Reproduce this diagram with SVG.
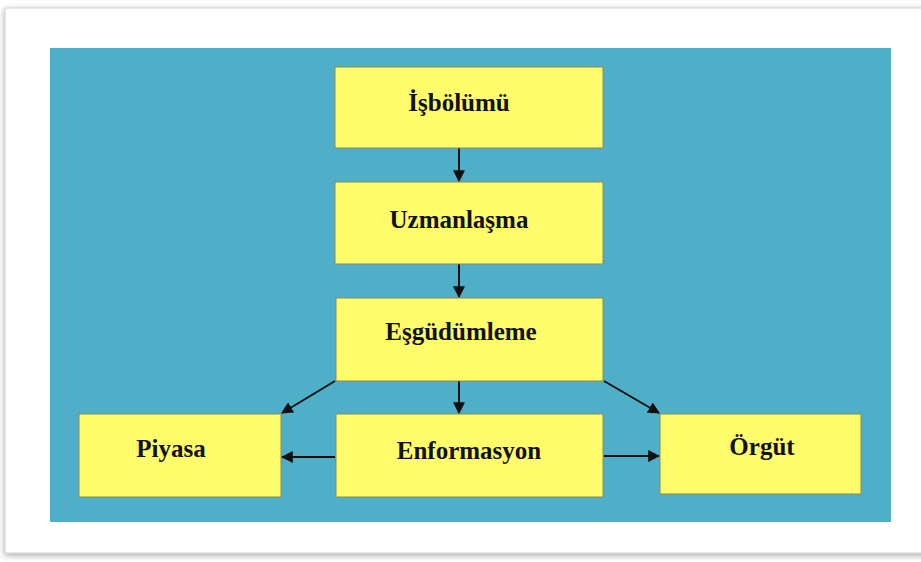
<svg xmlns="http://www.w3.org/2000/svg" width="921" height="562" viewBox="0 0 921 562">
  <style>
    .box { fill: #FFFC6C; stroke: #8A8A50; stroke-width: 1; }
    .lbl { font-family: "Liberation Serif", "Times New Roman", serif; font-weight: bold; font-size: 25px; fill: #111111; text-anchor: middle; }
    .conn { stroke: #111111; stroke-width: 2; fill: none; marker-end: url(#head); }
  </style>
  <defs>
    <marker id="head" viewBox="0 0 10 10" refX="9" refY="5" markerWidth="6" markerHeight="6" markerUnits="strokeWidth" orient="auto">
      <path d="M0,0 L10,5 L0,10 z" fill="#111111"/>
    </marker>
    <filter id="shadow" x="-5%" y="-5%" width="110%" height="110%">
      <feGaussianBlur in="SourceAlpha" stdDeviation="3"/>
      <feOffset dx="0" dy="2"/>
      <feComponentTransfer><feFuncA type="linear" slope="0.35"/></feComponentTransfer>
      <feMerge><feMergeNode/><feMergeNode in="SourceGraphic"/></feMerge>
    </filter>
  </defs>

  <!-- page card and backdrop -->
  <rect x="0" y="0" width="921" height="562" fill="#ffffff"/>
  <rect x="5" y="8" width="930" height="545" fill="#ffffff" stroke="#d0d0d0" stroke-width="1" filter="url(#shadow)"/>
  <rect x="50" y="48" width="841" height="474" fill="#50AFC8"/>

  <!-- connectors -->
  <g id="connectors">
    <line class="conn" x1="459" y1="148" x2="459" y2="181"/>
    <line class="conn" x1="459" y1="264" x2="459" y2="297"/>
    <line class="conn" x1="459" y1="381" x2="459" y2="413"/>
    <line class="conn" x1="335" y1="381" x2="282" y2="413"/>
    <line class="conn" x1="604" y1="381" x2="659" y2="413"/>
    <line class="conn" x1="335" y1="457" x2="282" y2="457"/>
    <line class="conn" x1="604" y1="456" x2="659" y2="456"/>
  </g>

  <!-- nodes -->
  <g id="isbolumu">
    <rect class="box" x="335" y="67" width="268" height="81"/>
    <text class="lbl" x="459" y="111">İşbölümü</text>
  </g>
  <g id="uzmanlasma">
    <rect class="box" x="335" y="182" width="268" height="82"/>
    <text class="lbl" x="459" y="228">Uzmanlaşma</text>
  </g>
  <g id="esgudumleme">
    <rect class="box" x="336" y="298" width="267" height="83"/>
    <text class="lbl" x="461" y="340">Eşgüdümleme</text>
  </g>
  <g id="enformasyon">
    <rect class="box" x="336" y="414" width="267" height="83"/>
    <text class="lbl" x="469" y="459">Enformasyon</text>
  </g>
  <g id="piyasa">
    <rect class="box" x="79" y="414" width="202" height="83"/>
    <text class="lbl" x="171" y="457">Piyasa</text>
  </g>
  <g id="orgut">
    <rect class="box" x="660" y="414" width="201" height="80"/>
    <text class="lbl" x="762" y="455">Örgüt</text>
  </g>
</svg>
